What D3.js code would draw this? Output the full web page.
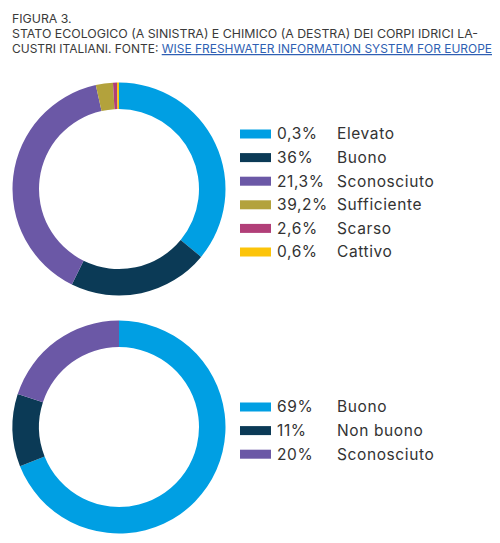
<!DOCTYPE html>
<html>
<head>
<meta charset="utf-8">
<script src="https://cdn.jsdelivr.net/npm/d3@7"></script>
<style>
  body { margin: 0; background: #fff; }
  svg { display: block; font-family: Inter, "Noto Sans", sans-serif; }
</style>
</head>
<body>
<svg id="chart" width="500" height="543"></svg>
<script>
// legend rows, as printed
const ecoPercents = ['0,3%', '36%', '21,3%', '39,2%', '2,6%', '0,6%']
const ecoLabels = ['Elevato', 'Buono', 'Sconosciuto', 'Sufficiente', 'Scarso', 'Cattivo']
// slices as drawn in the ring (clockwise from 12 o'clock)
const ecoSlices = [36, 21.3, 39.2, 2.6, 0.6, 0.3]
const ecoColors = ['#009fe3', '#0b3a56', '#6b58a6', '#b3a23c', '#b13f78', '#fcc40a']

const chemPercents = ['69%', '11%', '20%']
const chemLabels = ['Buono', 'Non buono', 'Sconosciuto']
const chemSlices = [69, 11, 20]
const chemColors = ['#009fe3', '#0b3a56', '#6b58a6']

const titleLines = [
  'FIGURA 3.',
  'STATO ECOLOGICO (A SINISTRA) E CHIMICO (A DESTRA) DEI CORPI IDRICI LA-'
]
const sourcePrefix = 'CUSTRI ITALIANI. FONTE: '
const sourceLink = 'WISE FRESHWATER INFORMATION SYSTEM FOR EUROPE'

const svg = d3.select('#chart')

// title
const title = svg.append('g')
  .attr('font-size', 12.3)
  .attr('fill', '#3a3a3a')

titleLines.forEach((t, i) => {
  const tx = title.append('text')
    .attr('x', 12)
    .attr('y', 23 + i * 15)
    .text(t)
  if (i === 1) tx.attr('textLength', 466).attr('lengthAdjust', 'spacingAndGlyphs')
})
const last = title.append('text')
  .attr('x', 12)
  .attr('y', 53)
  .attr('textLength', 480)
  .attr('lengthAdjust', 'spacingAndGlyphs')
last.append('tspan').text(sourcePrefix)
last.append('tspan')
  .attr('fill', '#2f5fb3')
  .attr('text-decoration', 'underline')
  .text(sourceLink)

function drawDonut(cx, cy, values, colors) {
  const pie = d3.pie().sort(null).value(d => d)
  const arc = d3.arc().innerRadius(80).outerRadius(106.5)
  svg.append('g')
    .attr('transform', 'translate(' + cx + ',' + cy + ')')
    .selectAll('path')
    .data(pie(values))
    .enter().append('path')
      .attr('d', arc)
      .attr('fill', (d, i) => colors[i])
}

function drawLegend(y0, percents, labels, colors) {
  const y = d3.scaleBand()
    .domain(labels.map((_, i) => i))
    .range([y0, y0 + labels.length * 23.6])

  const rows = svg.append('g')
    .selectAll('g')
    .data(labels)
    .enter().append('g')
      .attr('transform', (_, i) => 'translate(0,' + y(i) + ')')

  rows.append('rect')
    .attr('x', 240)
    .attr('y', -4.5)
    .attr('width', 31)
    .attr('height', 9)
    .attr('fill', (_, i) => colors[i])

  rows.append('text')
    .attr('x', 277)
    .attr('y', 5.3)
    .attr('font-size', 15.5)
    .attr('letter-spacing', 0.6)
    .attr('fill', '#333')
    .text((_, i) => percents[i])

  rows.append('text')
    .attr('x', 337)
    .attr('y', 5.3)
    .attr('font-size', 15.5)
    .attr('letter-spacing', 0.6)
    .attr('fill', '#333')
    .text(d => d)
}

drawDonut(119, 189, ecoSlices, ecoColors)
drawLegend(134, ecoPercents, ecoLabels, ecoColors)

drawDonut(119, 427, chemSlices, chemColors)
drawLegend(407, chemPercents, chemLabels, chemColors)
</script>
</body>
</html>
